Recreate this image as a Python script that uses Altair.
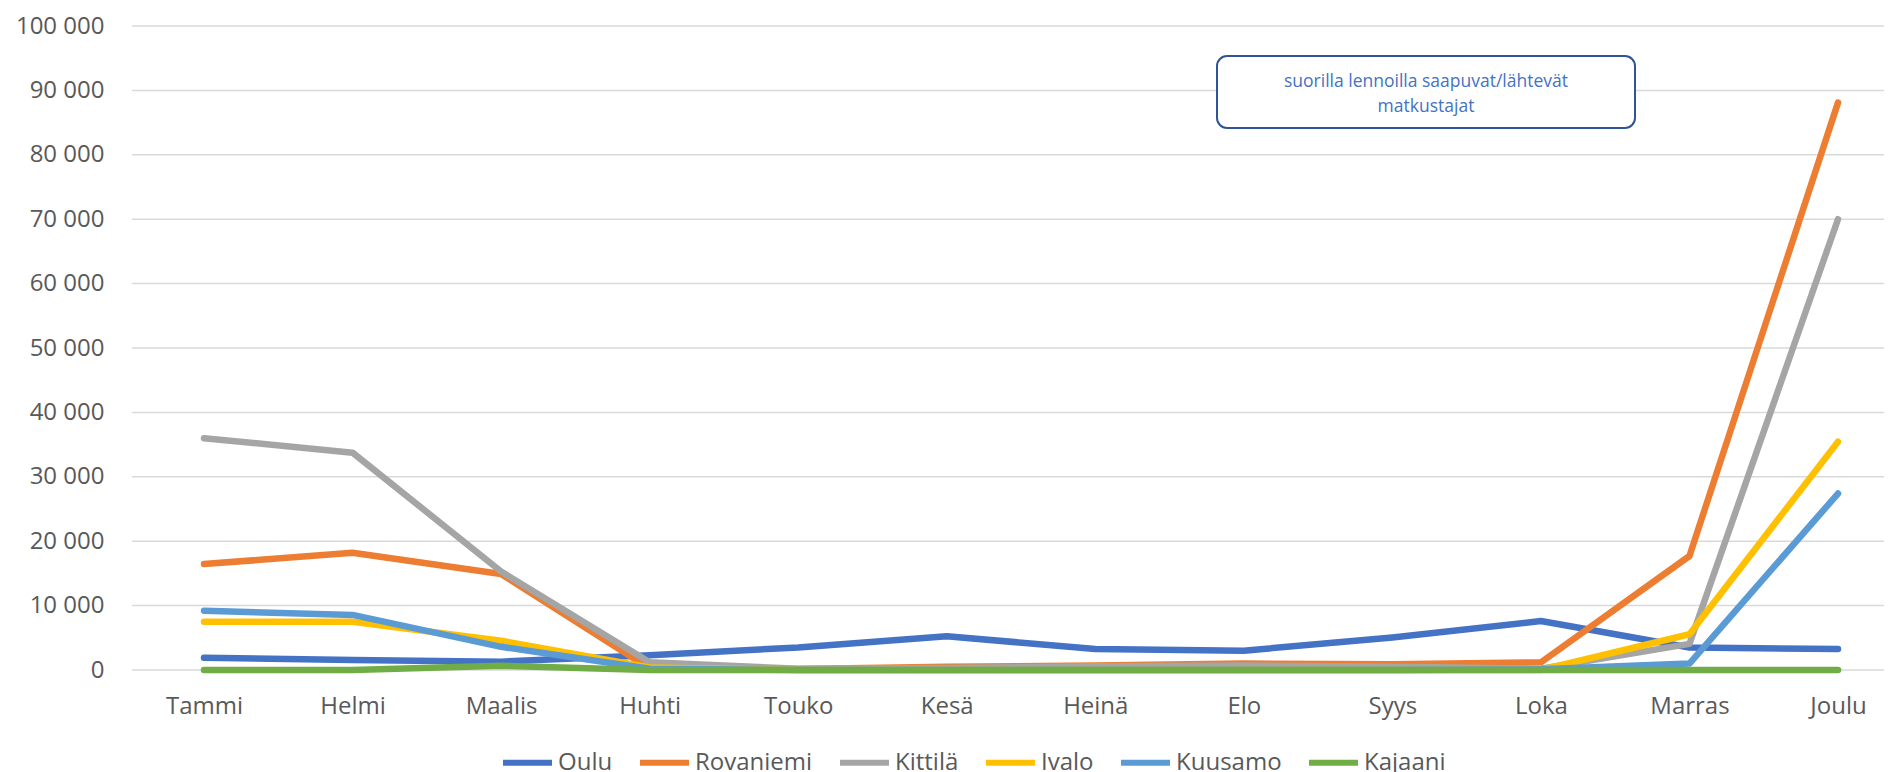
import altair as alt
import pandas as pd

months = ["Tammi", "Helmi", "Maalis", "Huhti", "Touko", "Kesä",
          "Heinä", "Elo", "Syys", "Loka", "Marras", "Joulu"]
series_names = ["Oulu", "Rovaniemi", "Kittilä", "Ivalo", "Kuusamo", "Kajaani"]
colors = ["#4472C4", "#ED7D31", "#A5A5A5", "#FFC000", "#5B9BD5", "#70AD47"]

oulu = [1900, 1550, 1300, 2300, 3500, 5250, 3250, 3000, 5050, 7600, 3500, 3250]
rovaniemi = [16450, 18200, 14900, 250, 150, 500, 700, 1000, 900, 1200, 17700, 88100]
kittila = [36000, 33750, 15300, 1200, 200, 300, 600, 700, 500, 200, 4050, 70000]
ivalo = [7500, 7500, 4550, 400, 0, 0, 0, 0, 0, 0, 5550, 35450]
kuusamo = [9200, 8550, 3600, 200, 0, 0, 0, 0, 0, 100, 1000, 27400]
kajaani = [0, 0, 650, 0, 0, 0, 0, 0, 0, 0, 0, 0]

annotation_lines = ["suorilla lennoilla saapuvat/lähtevät", "matkustajat"]
y_ticks = list(range(0, 100001, 10000))

values = [oulu, rovaniemi, kittila, ivalo, kuusamo, kajaani]
rows = []
for name, vals in zip(series_names, values):
    for m, v in zip(months, vals):
        rows.append({"series": name, "month": m, "value": v})
df = pd.DataFrame(rows)

W, H = 1752, 644
y_scale = alt.Scale(domain=[0, 100000], nice=False)
y_axis = alt.Axis(title=None, values=y_ticks, domain=False, ticks=False, grid=False,
                  labelFont="Open Sans", labelFontSize=24, labelColor="#595959",
                  labelPadding=28,
                  labelExpr="replace(format(datum.value, ','), ',', ' ')")

grid = alt.Chart(pd.DataFrame({"v": y_ticks})).mark_rule(
    color="#D9D9D9", strokeWidth=1.5
).encode(y=alt.Y("v:Q", scale=y_scale, axis=y_axis), x=alt.value(0), x2=alt.value(W))

base = alt.Chart(df).encode(
    x=alt.X("month:N", sort=months,
            scale=alt.Scale(type="point", range=[72, 1706], padding=0),
            axis=alt.Axis(title=None, labelAngle=0, domain=False, ticks=False, grid=False,
                          labelFont="Open Sans", labelFontSize=24, labelColor="#595959",
                          labelPadding=24)),
    y=alt.Y("value:Q", scale=y_scale, axis=y_axis),
    color=alt.Color("series:N",
                    scale=alt.Scale(domain=series_names, range=colors),
                    legend=alt.Legend(title=None, orient="none", direction="horizontal",
                                      legendX=368, legendY=709,
                                      symbolType="stroke", symbolStrokeWidth=6, symbolSize=2401,
                                      labelFont="Open Sans",
                                      labelFontSize=24, labelColor="#595959",
                                      labelOffset=3, columnPadding=15)),
)

layers = []
for s in series_names:
    layers.append(
        base.transform_filter(alt.datum.series == s)
        .mark_line(strokeWidth=6.5, strokeCap="round", strokeJoin="round")
    )

box = alt.Chart(pd.DataFrame({"a": [0]})).mark_rect(
    fill="white", stroke="#2F5597", strokeWidth=2, cornerRadius=10
).encode(x=alt.value(1085), x2=alt.value(1503), y=alt.value(30), y2=alt.value(102))

txt1 = alt.Chart(pd.DataFrame({"t": [annotation_lines[0]]})).mark_text(
    font="Open Sans", fontSize=17.5, color="#4472C4", align="center", baseline="middle"
).encode(x=alt.value(1294), y=alt.value(56), text="t:N")
txt2 = alt.Chart(pd.DataFrame({"t": [annotation_lines[1]]})).mark_text(
    font="Open Sans", fontSize=17.5, color="#4472C4", align="center", baseline="middle"
).encode(x=alt.value(1294), y=alt.value(81), text="t:N")

chart = alt.layer(grid, *layers, box, txt1, txt2).properties(
    width=W, height=H,
    padding={"left": 124, "top": 18, "right": 0, "bottom": 102},
    autosize=alt.AutoSizeParams(type="none"),
    background="white",
).configure_view(stroke=None)

chart.save("out.html", embed_options={"renderer": "svg", "actions": False})
